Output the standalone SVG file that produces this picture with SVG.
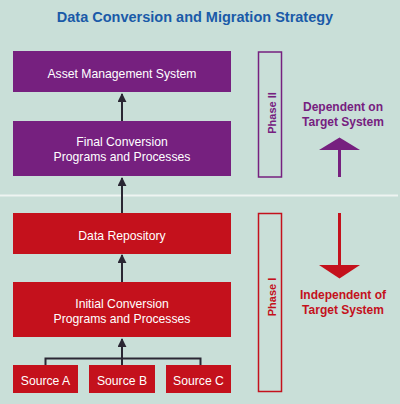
<svg xmlns="http://www.w3.org/2000/svg" width="400" height="404" viewBox="0 0 400 404">
<defs>
<style>
.bg{fill:#c9dfd8}
.pbox{fill:#76207f}
.rbox{fill:#c4111c}
.t{font-family:"Liberation Sans",Arial,sans-serif;font-size:12.2px;fill:#ffffff;text-anchor:middle}
.conn{stroke:#2a2633;stroke-width:2;fill:none}
.title{font-family:"Liberation Sans",Arial,sans-serif;font-size:14.5px;font-weight:bold;fill:#1a5aa8;text-anchor:middle}
.side{font-family:"Liberation Sans",Arial,sans-serif;font-size:12px;font-weight:bold;text-anchor:middle}
.phase{font-family:"Liberation Sans",Arial,sans-serif;font-size:11px;font-weight:bold;text-anchor:middle}
</style>
<marker id="ah" viewBox="0 0 10 10" refX="9" refY="5" markerWidth="4.5" markerHeight="4.5" orient="auto" markerUnits="strokeWidth">
<path d="M0,0 L10,5 L0,10 z" fill="#2a2633"/>
</marker>
</defs>
<rect class="bg" x="0" y="0" width="400" height="404"/>
<text class="title" x="195" y="22">Data Conversion and Migration Strategy</text>
<line x1="0" y1="195.5" x2="398" y2="195.5" stroke="#eef4f1" stroke-width="2"/>

<g id="connectors">
<line class="conn" x1="122" y1="121" x2="122" y2="94" marker-end="url(#ah)"/>
<line class="conn" x1="122" y1="213" x2="122" y2="178" marker-end="url(#ah)"/>
<line class="conn" x1="122" y1="282" x2="122" y2="255" marker-end="url(#ah)"/>
<line class="conn" x1="122" y1="365" x2="122" y2="339" marker-end="url(#ah)"/>
<polyline class="conn" points="45.5,365 45.5,358.5 200.5,358.5 200.5,365"/>
</g>

<g id="asset">
<rect class="pbox" x="13" y="51" width="218" height="41"/>
<text class="t" x="122" y="78">Asset Management System</text>
</g>
<g id="final">
<rect class="pbox" x="13" y="121" width="218" height="55"/>
<text class="t" x="122" y="146">Final Conversion</text>
<text class="t" x="122" y="161">Programs and Processes</text>
</g>
<g id="repo">
<rect class="rbox" x="13" y="213" width="218" height="41"/>
<text class="t" x="122" y="240">Data Repository</text>
</g>
<g id="initial">
<rect class="rbox" x="13" y="282" width="218" height="55"/>
<text class="t" x="122" y="308">Initial Conversion</text>
<text class="t" x="122" y="322.5">Programs and Processes</text>
</g>
<g id="srcA">
<rect class="rbox" x="13" y="365" width="65" height="28"/>
<text class="t" x="45.5" y="385">Source A</text>
</g>
<g id="srcB">
<rect class="rbox" x="89" y="365" width="66" height="28"/>
<text class="t" x="122" y="385">Source B</text>
</g>
<g id="srcC">
<rect class="rbox" x="166" y="365" width="65" height="28"/>
<text class="t" x="198.5" y="385">Source C</text>
</g>

<g id="phase2">
<rect x="258.5" y="52" width="23" height="125" fill="none" stroke="#76207f" stroke-width="1.5"/>
<text class="phase" fill="#76207f" transform="translate(275.5,113) rotate(-90)">Phase II</text>
</g>
<g id="phase1">
<rect x="258.5" y="213.5" width="23" height="178" fill="none" stroke="#c4111c" stroke-width="1.5"/>
<text class="phase" fill="#c4111c" transform="translate(275.5,297) rotate(-90)">Phase I</text>
</g>

<g id="dependent">
<text class="side" fill="#76207f" x="343" y="111">Dependent on</text>
<text class="side" fill="#76207f" x="343" y="126">Target System</text>
<polygon points="339.5,137.5 319,150 360,150" fill="#76207f"/>
<rect x="338" y="149" width="3" height="28" fill="#76207f"/>
</g>
<g id="independent">
<rect x="338" y="213" width="3" height="53" fill="#c4111c"/>
<polygon points="319,265 360,265 339.5,278.5" fill="#c4111c"/>
<text class="side" fill="#c4111c" x="343" y="298.5">Independent of</text>
<text class="side" fill="#c4111c" x="343" y="314">Target System</text>
</g>
</svg>
